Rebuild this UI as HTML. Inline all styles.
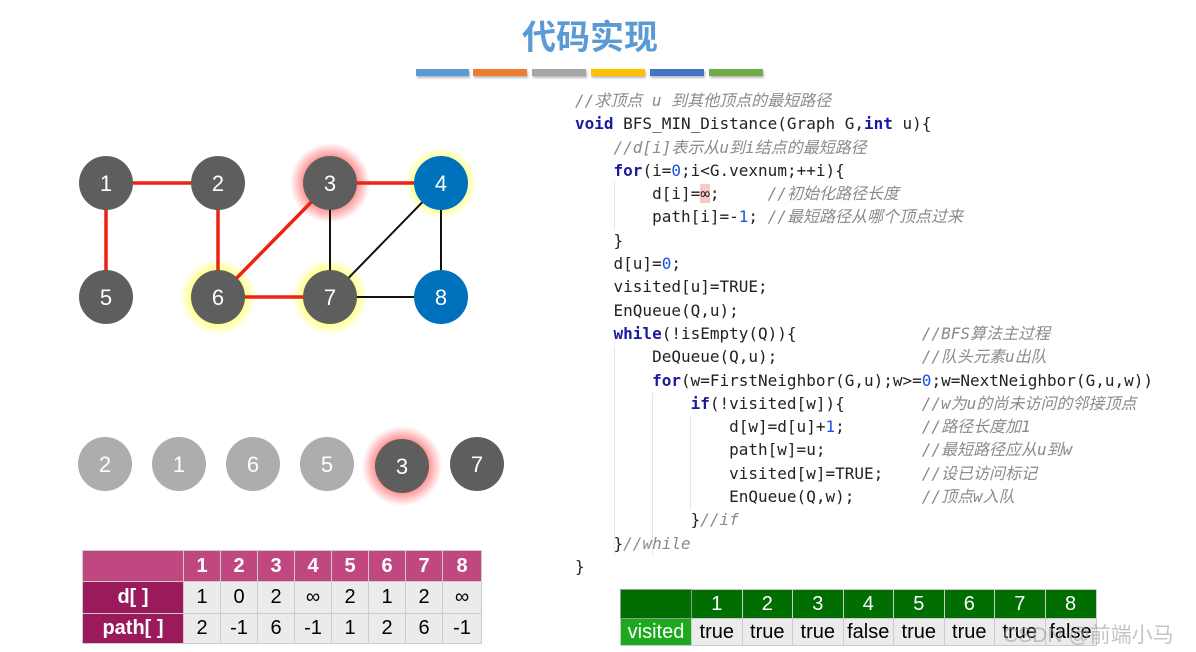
<!DOCTYPE html>
<html><head><meta charset="utf-8"><style>
body{margin:0;width:1196px;height:652px;background:#fff;position:relative;overflow:hidden;font-family:"Liberation Sans","Noto Sans CJK SC",sans-serif}
.t{position:absolute;left:0;top:10px;width:1180px;text-align:center;font-size:34px;color:#5b9bd5;font-family:"Noto Sans CJK SC",sans-serif;font-weight:bold}
.bar{position:absolute;top:69px;height:7px;box-shadow:1px 2px 2px #bbb}
pre{position:absolute;left:575px;top:89px;margin:0;font-family:"DejaVu Sans Mono","Liberation Mono","Noto Sans CJK SC",monospace;font-size:16px;line-height:23.3px;color:#222}
.k{color:#1a1a9e;font-weight:bold}.n{color:#1750eb}.c{color:#8a8a8a;font-style:italic}
.g{position:absolute;width:1px;background:#e6e6e6}
table{position:absolute;border-collapse:collapse;font-family:"Liberation Sans",sans-serif}
td{text-align:center;padding:0;border:1px solid #ccc}
</style></head><body>
<div class="t">代码实现</div>
<div class="bar" style="left:416px;width:53px;background:#5b9bd5"></div>
<div class="bar" style="left:473px;width:54px;background:#ed7d31"></div>
<div class="bar" style="left:532px;width:54px;background:#a5a5a5"></div>
<div class="bar" style="left:591px;width:54px;background:#ffc000"></div>
<div class="bar" style="left:650px;width:54px;background:#4472c4"></div>
<div class="bar" style="left:709px;width:54px;background:#70ad47"></div>

<svg width="560" height="520" style="position:absolute;left:0;top:0">
<defs>
<radialGradient id="gy"><stop offset="0.6" stop-color="#ffff66"/><stop offset="1" stop-color="#ffff66" stop-opacity="0"/></radialGradient>
<radialGradient id="gr"><stop offset="0.6" stop-color="#ff8080"/><stop offset="1" stop-color="#ff8080" stop-opacity="0"/></radialGradient>
</defs>
<circle cx="218" cy="297" r="38" fill="url(#gy)"/>
<circle cx="330" cy="297" r="38" fill="url(#gy)"/>
<circle cx="441" cy="183" r="36" fill="url(#gy)"/>
<circle cx="330" cy="183" r="40" fill="url(#gr)"/>
<circle cx="402" cy="466" r="40" fill="url(#gr)"/>
<g stroke="#ee2211" stroke-width="3.5">
<line x1="106" y1="183" x2="218" y2="183"/><line x1="106" y1="183" x2="106" y2="297"/>
<line x1="218" y1="183" x2="218" y2="297"/><line x1="218" y1="297" x2="330" y2="183"/>
<line x1="218" y1="297" x2="330" y2="297"/><line x1="330" y1="183" x2="441" y2="183"/>
</g>
<g stroke="#111" stroke-width="2">
<line x1="330" y1="183" x2="330" y2="297"/><line x1="330" y1="297" x2="441" y2="183"/>
<line x1="441" y1="183" x2="441" y2="297"/><line x1="330" y1="297" x2="441" y2="297"/>
</g>
<g font-family="Liberation Sans" font-size="22" fill="#fff" text-anchor="middle">
<circle cx="106" cy="183" r="27" fill="#5e5e5e"/><text x="106" y="191">1</text>
<circle cx="218" cy="183" r="27" fill="#5e5e5e"/><text x="218" y="191">2</text>
<circle cx="330" cy="183" r="27" fill="#5e5e5e"/><text x="330" y="191">3</text>
<circle cx="441" cy="183" r="27" fill="#0071bc"/><text x="441" y="191">4</text>
<circle cx="106" cy="297" r="27" fill="#5e5e5e"/><text x="106" y="305">5</text>
<circle cx="218" cy="297" r="27" fill="#5e5e5e"/><text x="218" y="305">6</text>
<circle cx="330" cy="297" r="27" fill="#5e5e5e"/><text x="330" y="305">7</text>
<circle cx="441" cy="297" r="27" fill="#0071bc"/><text x="441" y="305">8</text>
<circle cx="105" cy="464" r="27" fill="#adadad"/><text x="105" y="472">2</text>
<circle cx="179" cy="464" r="27" fill="#adadad"/><text x="179" y="472">1</text>
<circle cx="253" cy="464" r="27" fill="#adadad"/><text x="253" y="472">6</text>
<circle cx="327" cy="464" r="27" fill="#adadad"/><text x="327" y="472">5</text>
<circle cx="402" cy="466" r="27" fill="#5e5e5e"/><text x="402" y="474">3</text>
<circle cx="477" cy="464" r="27" fill="#5e5e5e"/><text x="477" y="472">7</text>
</g>
</svg>

<div class="g" style="left:614px;top:182px;height:48px"></div>
<div class="g" style="left:614px;top:346px;height:210px"></div>
<div class="g" style="left:652px;top:393px;height:163px"></div>
<div class="g" style="left:690px;top:416px;height:94px"></div>
<pre><span class="c">//求顶点 u 到其他顶点的最短路径</span>
<span class="k">void</span> BFS_MIN_Distance(Graph G,<span class="k">int</span> u){
    <span class="c">//d[i]表示从u到i结点的最短路径</span>
    <span class="k">for</span>(i=<span class="n">0</span>;i&lt;G.vexnum;++i){
        d[i]=<span style="background:#f8c8c8">∞</span>;     <span class="c">//初始化路径长度</span>
        path[i]=-<span class="n">1</span>; <span class="c">//最短路径从哪个顶点过来</span>
    }
    d[u]=<span class="n">0</span>;
    visited[u]=TRUE;
    EnQueue(Q,u);
    <span class="k">while</span>(!isEmpty(Q)){             <span class="c">//BFS算法主过程</span>
        DeQueue(Q,u);               <span class="c">//队头元素u出队</span>
        <span class="k">for</span>(w=FirstNeighbor(G,u);w&gt;=<span class="n">0</span>;w=NextNeighbor(G,u,w))
            <span class="k">if</span>(!visited[w]){        <span class="c">//w为u的尚未访问的邻接顶点</span>
                d[w]=d[u]+<span class="n">1</span>;        <span class="c">//路径长度加1</span>
                path[w]=u;          <span class="c">//最短路径应从u到w</span>
                visited[w]=TRUE;    <span class="c">//设已访问标记</span>
                EnQueue(Q,w);       <span class="c">//顶点w入队</span>
            }<span class="c">//if</span>
    }<span class="c">//while</span>
}</pre>

<table style="left:82px;top:550px;font-size:20px">
<tr style="height:31px;background:#c0477f;color:#fff;font-weight:bold"><td style="width:100px"></td><td style="width:36px">1</td><td style="width:36px">2</td><td style="width:36px">3</td><td style="width:36px">4</td><td style="width:36px">5</td><td style="width:36px">6</td><td style="width:36px">7</td><td style="width:38px">8</td></tr>
<tr style="height:32px;background:#ebebeb"><td style="background:#9b1a5b;color:#fff;font-weight:bold">d[ ]</td><td>1</td><td>0</td><td>2</td><td>∞</td><td>2</td><td>1</td><td>2</td><td>∞</td></tr>
<tr style="height:30px;background:#ebebeb"><td style="background:#9b1a5b;color:#fff;font-weight:bold">path[ ]</td><td>2</td><td>-1</td><td>6</td><td>-1</td><td>1</td><td>2</td><td>6</td><td>-1</td></tr>
</table>

<table style="left:620px;top:589px;font-size:20px">
<tr style="height:29px;background:#006e00;color:#fff"><td style="width:70px;border-color:#999"></td><td style="width:49.5px">1</td><td style="width:49.5px">2</td><td style="width:49.5px">3</td><td style="width:49.5px">4</td><td style="width:49.5px">5</td><td style="width:49.5px">6</td><td style="width:49.5px">7</td><td style="width:50px">8</td></tr>
<tr style="height:27px;background:#ebebeb"><td style="background:#1ea81e;color:#fff">visited</td><td>true</td><td>true</td><td>true</td><td>false</td><td>true</td><td>true</td><td>true</td><td>false</td></tr>
</table>
<div style="position:absolute;left:1003px;top:619px;font-size:21px;color:rgba(150,150,150,.55);font-family:'Liberation Sans','Noto Sans CJK SC',sans-serif">CSDN @前端小马</div>
</body></html>
